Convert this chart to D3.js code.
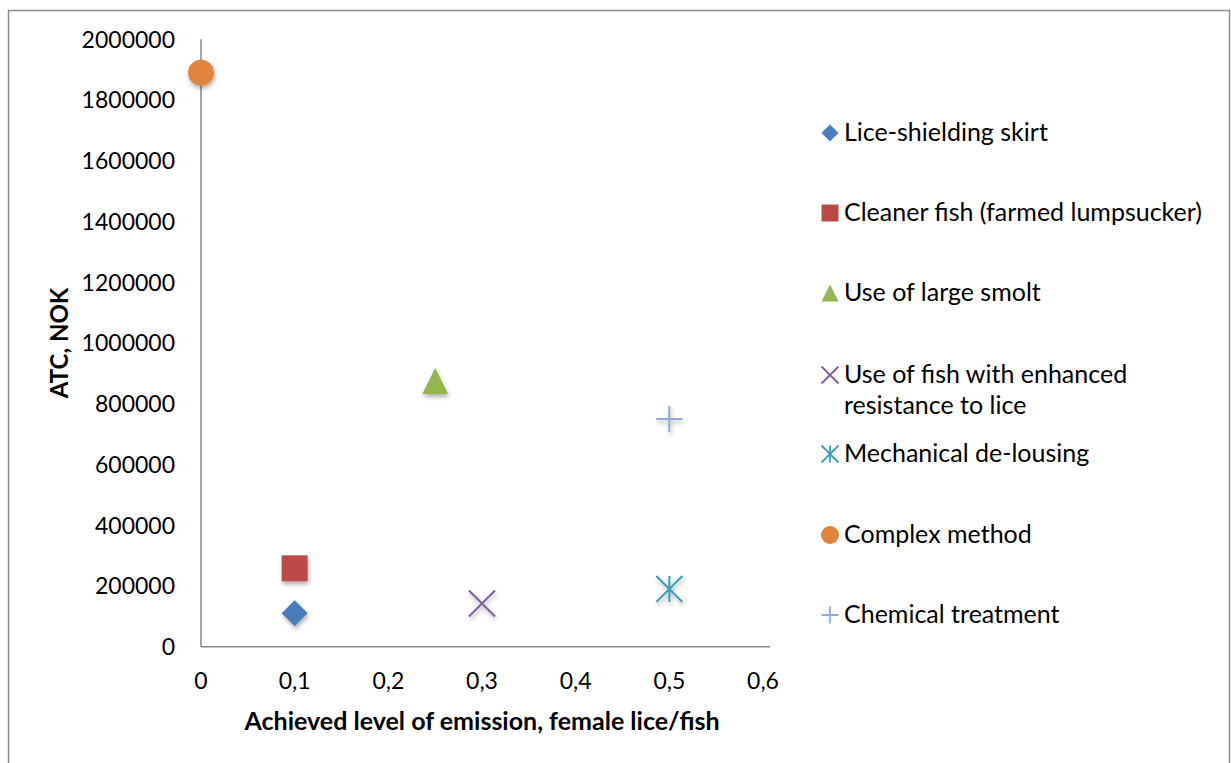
<!DOCTYPE html>
<html><head><meta charset="utf-8">
<script src="https://cdn.jsdelivr.net/npm/d3@7"></script>
<style>
html,body{margin:0;padding:0;background:#fff;}
svg{display:block;font-family:Lato,"Open Sans",sans-serif;}
</style></head>
<body>
<svg id="c" width="1231" height="763"></svg>
<script>
// ---- data ----
const seriesNames = ["Lice-shielding skirt","Cleaner fish (farmed lumpsucker)","Use of large smolt","Use of fish with enhanced resistance to lice","Mechanical de-lousing","Complex method","Chemical treatment"];
const xValues = [0.1, 0.1, 0.25, 0.3, 0.5, 0, 0.5];
const yValues = [110000, 258000, 875000, 142000, 190000, 1890000, 750000];
const markerKinds = ["diamond","square","triangle","times","asterisk","circle","plus"];
const colors = ["#4A7DBA","#BA4A47","#93B650","#7B5F9E","#3E9DB7","#E0843C","#8EAAD5"];
const xTicks = [0,0.1,0.2,0.3,0.4,0.5,0.6];
const yTicks = [0,200000,400000,600000,800000,1000000,1200000,1400000,1600000,1800000,2000000];
const xTitle = "Achieved level of emission, female lice/fish";
const yTitle = "ATC, NOK";
const legendLines = [["Lice-shielding skirt"],["Cleaner fish (farmed lumpsucker)"],["Use of large smolt"],["Use of fish with enhanced","resistance to lice"],["Mechanical de-lousing"],["Complex method"],["Chemical treatment"]];

const svg = d3.select("#c");
const defs = svg.append("defs");
const f = defs.append("filter").attr("id","sh").attr("x","-50%").attr("y","-50%").attr("width","200%").attr("height","200%");
f.append("feDropShadow").attr("dx",1).attr("dy",3).attr("stdDeviation",2).attr("flood-color","#000").attr("flood-opacity",0.3);

// frame
svg.append("rect").attr("x",8.5).attr("y",10.5).attr("width",1221).attr("height",800)
  .attr("fill","none").attr("stroke","#8c8c8c").attr("stroke-width",1.5);

const x = d3.scaleLinear().domain([0,0.6]).range([201,763]);
const y = d3.scaleLinear().domain([0,2000000]).range([646.7,39.3]);

// axes lines
svg.append("line").attr("x1",x(0)).attr("x2",x(0)).attr("y1",y(2000000)).attr("y2",y(0)).attr("stroke","#868686").attr("stroke-width",1.5);
svg.append("line").attr("x1",x(0)).attr("x2",x(0.6)+7).attr("y1",y(0)).attr("y2",y(0)).attr("stroke","#868686").attr("stroke-width",1.5);

const fmtX = v => v===0 ? "0" : d3.format(".1f")(v).replace(".",",");
svg.append("g").selectAll("text").data(xTicks).join("text")
  .attr("x",d=>x(d)).attr("y",689).attr("text-anchor","middle")
  .attr("font-size",23).attr("fill","#000").text(fmtX);
svg.append("g").selectAll("text").data(yTicks).join("text")
  .attr("x",175).attr("y",d=>y(d)).attr("dy","0.36em").attr("text-anchor","end")
  .attr("font-size",23).attr("fill","#000").text(d=>String(d));

svg.append("text").attr("x",482).attr("y",730).attr("text-anchor","middle")
  .attr("font-size",25).attr("font-weight","bold").text(xTitle);
svg.append("text").attr("transform","translate(68,343) rotate(-90)").attr("text-anchor","middle")
  .attr("font-size",24).attr("font-weight","bold").text(yTitle);

// marker path generator
function markerPath(kind, w){
  const h = w/2, p = d3.path();
  switch(kind){
    case "diamond": p.moveTo(0,-h);p.lineTo(h,0);p.lineTo(0,h);p.lineTo(-h,0);p.closePath();break;
    case "square": p.rect(-h,-h,w,w);break;
    case "triangle": p.moveTo(0,-h);p.lineTo(h,h);p.lineTo(-h,h);p.closePath();break;
    case "circle": p.arc(0,0,h,0,2*Math.PI);break;
    case "times": p.moveTo(-h,-h);p.lineTo(h,h);p.moveTo(h,-h);p.lineTo(-h,h);break;
    case "asterisk": p.moveTo(-h,-h);p.lineTo(h,h);p.moveTo(h,-h);p.lineTo(-h,h);p.moveTo(0,-h);p.lineTo(0,h);break;
    case "plus": p.moveTo(-h,0);p.lineTo(h,0);p.moveTo(0,-h);p.lineTo(0,h);break;
  }
  return p.toString();
}
const filled = k => ["diamond","square","triangle","circle"].includes(k);

const data = seriesNames.map((n,i)=>({n, x:xValues[i], y:yValues[i], k:markerKinds[i], c:colors[i]}));
svg.append("g").selectAll("path").data(data).join("path")
  .attr("transform",d=>`translate(${x(d.x)},${y(d.y)})`)
  .attr("d",d=>markerPath(d.k, 26))
  .attr("fill",d=>filled(d.k)?d.c:"none")
  .attr("stroke",d=>filled(d.k)?"none":d.c)
  .attr("stroke-width",2)
  .attr("filter","url(#sh)");

// legend
const legY = [133,213,293,375,454,535,615];
const legBase = [141,221,301,383,462,543,623];
const lg = svg.append("g");
data.forEach((d,i)=>{
  lg.append("path").attr("transform",`translate(830,${legY[i]})`)
    .attr("d",markerPath(d.k, d.k==="circle"?18:17))
    .attr("fill",filled(d.k)?d.c:"none").attr("stroke",filled(d.k)?"none":d.c).attr("stroke-width",1.8);
  const t = lg.append("text").attr("x",844).attr("y",legBase[i]).attr("font-size",25).attr("fill","#000");
  legendLines[i].forEach((ln,j)=>t.append("tspan").attr("x",844).attr("dy",j?31:0).text(ln));
});
</script>
</body></html>
